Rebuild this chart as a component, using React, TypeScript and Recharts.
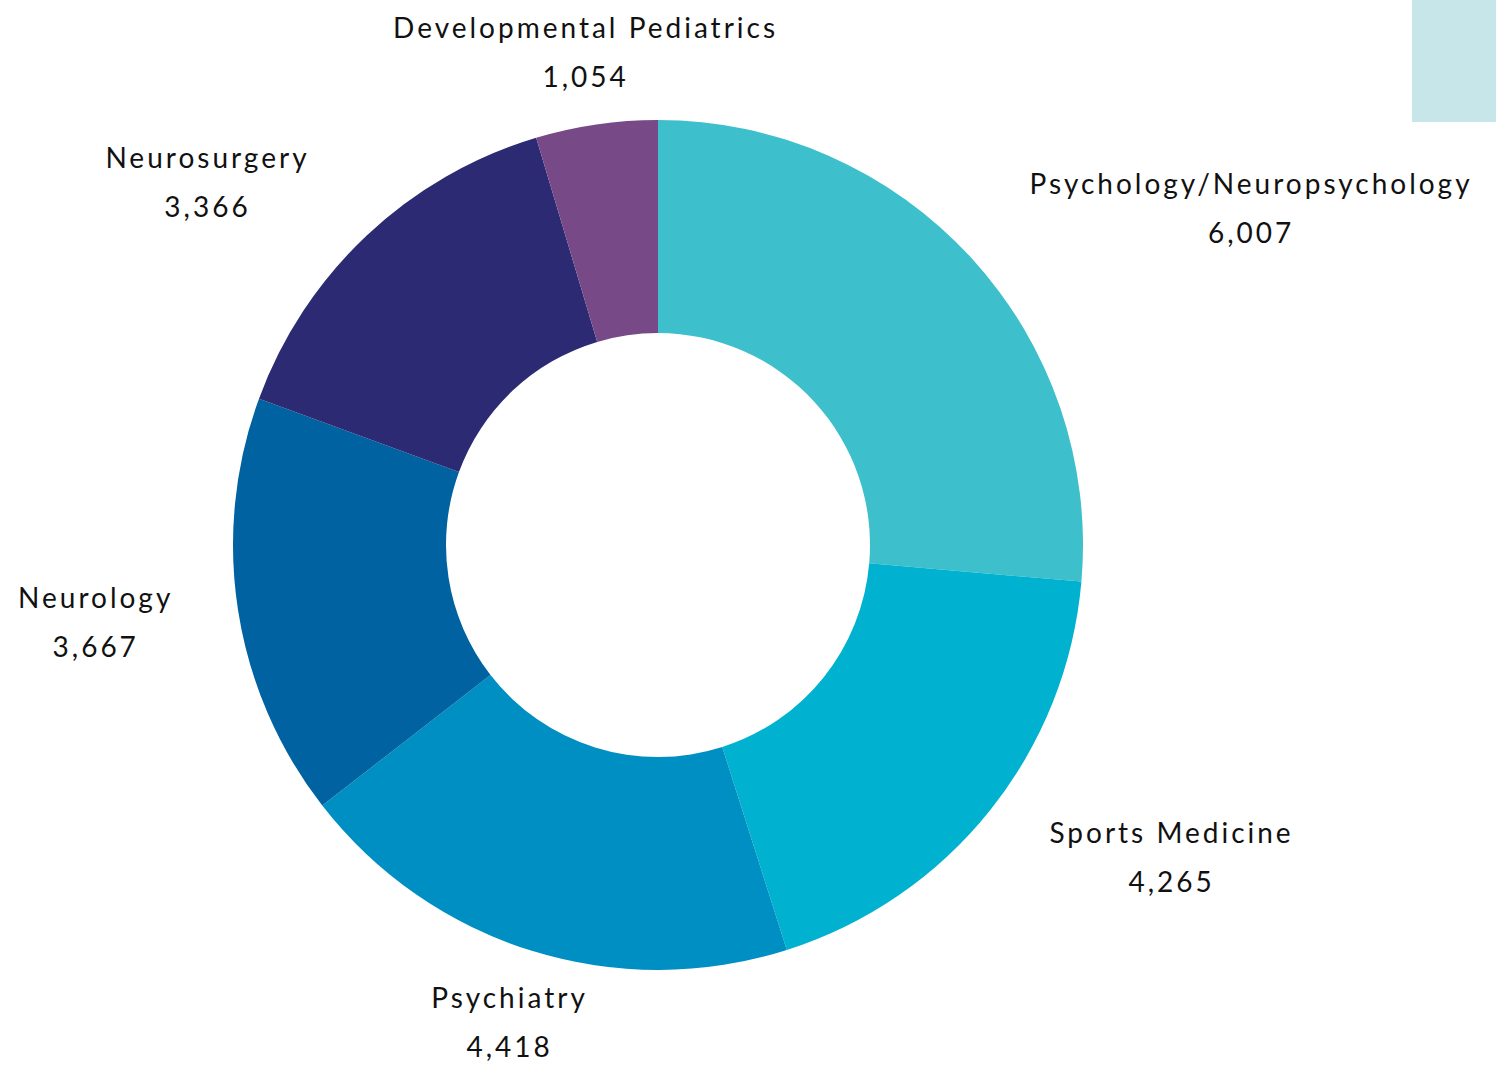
import React from 'react';
import { PieChart, Pie, Cell } from 'recharts';

const specialties = [
  'Psychology/Neuropsychology',
  'Sports Medicine',
  'Psychiatry',
  'Neurology',
  'Neurosurgery',
  'Developmental Pediatrics',
];
const referrals = [6007, 4265, 4418, 3667, 3366, 1054];
const sliceColors = ['#3DBFCC', '#00B2D0', '#008FC2', '#0062A0', '#2B2A73', '#774A87'];

const data = specialties.map((name, i) => ({ name, value: referrals[i] }));

const RADIAN = Math.PI / 180;
const LINE_GAP = 49;
const FONT_SIZE = 28;
const LETTER_SPACING = 3;
const FONT_FAMILY = 'Lato, sans-serif';

let measureCtx: CanvasRenderingContext2D | null = null;
const textWidth = (s: string) => {
  if (!measureCtx) {
    measureCtx = document.createElement('canvas').getContext('2d');
  }
  if (!measureCtx) return s.length * FONT_SIZE * 0.55;
  measureCtx.font = `${FONT_SIZE}px ${FONT_FAMILY}`;
  return measureCtx.measureText(s).width + s.length * LETTER_SPACING;
};

const renderLabel = (props: any) => {
  const { cx, cy, midAngle, outerRadius, name, value } = props;
  const cos = Math.cos(-midAngle * RADIAN);
  const sin = Math.sin(-midAngle * RADIAN);
  const r = outerRadius + 25;
  const px = cx + r * cos;
  const py = cy + r * sin;
  const blockY = py + sin * LINE_GAP;
  const valueText = value.toLocaleString('en-US');
  const blockW = Math.max(textWidth(name), textWidth(valueText));
  let x = px + cos * 50;
  if (Math.abs(cos) > 0.5) {
    x = cos > 0 ? px + 40 + blockW / 2 : px - 40 - blockW / 2;
  }
  return (
    <text
      x={x}
      y={blockY}
      textAnchor="middle"
      fill="#111111"
      fontFamily={FONT_FAMILY}
      fontSize={FONT_SIZE}
      letterSpacing={LETTER_SPACING}
    >
      <tspan x={x} dy={-LINE_GAP / 2} dominantBaseline="central">{name}</tspan>
      <tspan x={x} dy={LINE_GAP} dominantBaseline="central">{valueText}</tspan>
    </text>
  );
};

export default function App() {
  return (
    <div style={{ position: 'absolute', left: 0, top: 0, width: 1496, height: 1068, background: '#fff' }}>
      <div style={{ position: 'absolute', left: 1412, top: 0, width: 84, height: 122, background: '#C6E6E9' }} />
      <PieChart width={1496} height={1068} margin={{ top: 0, right: 0, bottom: 0, left: 0 }}>
        <Pie
          data={data}
          dataKey="value"
          nameKey="name"
          cx={658}
          cy={545}
          innerRadius={212}
          outerRadius={425}
          startAngle={90}
          endAngle={-270}
          stroke="none"
          label={renderLabel}
          labelLine={false}
          isAnimationActive={false}
        >
          {data.map((d, i) => (
            <Cell key={d.name} fill={sliceColors[i]} />
          ))}
        </Pie>
      </PieChart>
    </div>
  );
}
